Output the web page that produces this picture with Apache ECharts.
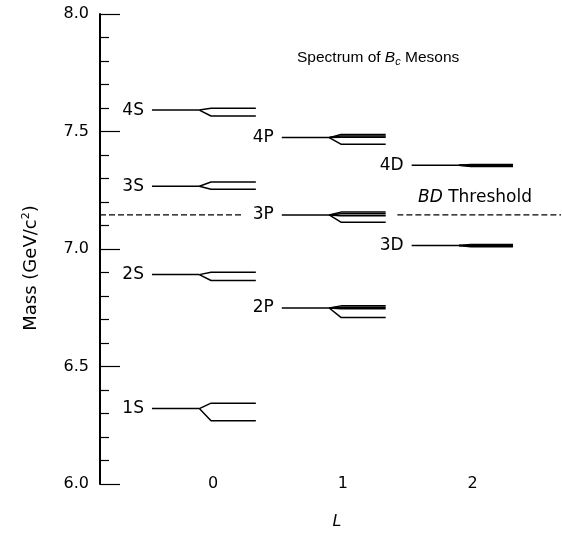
<!DOCTYPE html>
<html>
<head>
<meta charset="utf-8">
<script src="https://cdn.jsdelivr.net/npm/echarts@6/dist/echarts.min.js"></script>
<style>
html,body{margin:0;padding:0;background:#fff;}
#chart{width:562px;height:535px;}
</style>
</head>
<body>
<div id="chart"></div>
<script>
// ---- data ----
const yTicks = [6.0, 6.5, 7.0, 7.5, 8.0];
const xTickValues = [0, 1, 2];

// S-wave (L = 0)
const sLabels   = ['1S', '2S', '3S', '4S'];
const sCentroid = [6.321, 6.891, 7.267, 7.591];
const sTriplet  = [6.344, 6.901, 7.285, 7.599];
const sSinglet  = [6.269, 6.866, 7.254, 7.566];

// P-wave (L = 1)
const pLabels   = ['2P', '3P', '4P'];
const pCentroid = [6.749, 7.145, 7.474];
const pSplit = [
  [6.758, 6.752, 6.746, 6.709],
  [7.157, 7.150, 7.142, 7.114],
  [7.487, 7.481, 7.476, 7.446]
];

// D-wave (L = 2)
const dLabels   = ['3D', '4D'];
const dCentroid = [7.015, 7.356];
const dSplit = [
  [7.019, 7.016, 7.013, 7.010],
  [7.360, 7.357, 7.354, 7.351]
];

const bdThreshold = 7.145;

// ---- layout constants ----
const xMin = -0.87, xMax = 2.68;
const X_START = -0.47, X_FORK = -0.105, X_SPLIT = -0.015, X_END = 0.33, X_END_D = 0.31;
const FONT = 'DejaVu Sans';
const lineStyle = {color: '#000', width: 1.5};

const series = [];
function addLine(data, label, style) {
  series.push({
    type: 'line', symbol: 'circle', symbolSize: 0, showSymbol: true,
    silent: true, animation: false,
    itemStyle: {color: '#000'},
    lineStyle: style || lineStyle,
    z: 3,
    data: data.map((d, i) => (label && i === 0) ? {value: d, label: {
      show: true, position: 'left', distance: 8, formatter: label,
      fontFamily: FONT, fontSize: 17, color: '#000'
    }} : d)
  });
}
function addLevel(L, label, c, splits, xEnd) {
  addLine([[L + X_START, c], [L + X_FORK, c]], label);
  splits.forEach(m => {
    addLine([[L + X_FORK, c], [L + X_SPLIT, m], [L + xEnd, m]]);
  });
}
sLabels.forEach((lab, i) => addLevel(0, lab, sCentroid[i], [sTriplet[i], sSinglet[i]], X_END));
pLabels.forEach((lab, i) => addLevel(1, lab, pCentroid[i], pSplit[i], X_END));
dLabels.forEach((lab, i) => addLevel(2, lab, dCentroid[i], dSplit[i], X_END_D));

// BD threshold (dashed), interrupted around the 3P level
const dashStyle = {color: '#000', width: 1.3, type: [6, 3]};
addLine([[xMin, bdThreshold], [0.22, bdThreshold]], null, dashStyle);
addLine([[1.42, bdThreshold], [xMax, bdThreshold]], null, dashStyle);

const option = {
  backgroundColor: '#fff',
  animation: false,
  grid: {left: 100, right: 1, top: 14, bottom: 51},
  xAxis: {
    type: 'value', min: xMin, max: xMax,
    axisLine: {show: false}, axisTick: {show: false}, splitLine: {show: false},
    axisLabel: {
      customValues: xTickValues, margin: 0, verticalAlign: 'middle',
      fontFamily: FONT, fontSize: 16, color: '#000',
      formatter: v => String(v)
    },
    name: 'L', nameLocation: 'middle', nameGap: 30,
    nameTextStyle: {fontFamily: FONT, fontSize: 16, fontStyle: 'italic', color: '#000', padding: [0, 0, 0, 13]}
  },
  yAxis: {
    type: 'value', min: yTicks[0], max: yTicks[yTicks.length - 1], interval: 0.5,
    axisLine: {show: true, onZero: false, lineStyle: {color: '#000', width: 2}},
    axisTick: {show: true, inside: true, length: 20, lineStyle: {color: '#000', width: 1.2}},
    minorTick: {show: true, splitNumber: 5, length: 9, lineStyle: {color: '#000', width: 1.2}},
    splitLine: {show: false},
    axisLabel: {
      margin: 11, fontFamily: FONT, fontSize: 16, color: '#000',
      formatter: v => v.toFixed(1)
    }
  },
  graphic: [
    {
      type: 'text', x: 31, y: 268, rotation: Math.PI / 2,
      style: {
        text: '{a|Mass (GeV/c}{s|2}{a|)}',
        align: 'center', verticalAlign: 'middle',
        rich: {
          a: {fontFamily: FONT, fontSize: 18, fill: '#000'},
          s: {fontFamily: FONT, fontSize: 11, fill: '#000', verticalAlign: 'top', padding: [0, 0, 9, 0]}
        }
      }
    },
    {
      type: 'text', x: 297, y: 58,
      style: {
        text: '{a|Spectrum of }{i|B}{c|c}{a| Mesons}',
        align: 'left', verticalAlign: 'middle',
        rich: {
          a: {fontFamily: 'Liberation Sans', fontSize: 15.5, fill: '#000'},
          i: {fontFamily: 'Liberation Sans', fontSize: 15.5, fontStyle: 'italic', fill: '#000'},
          c: {fontFamily: 'Liberation Sans', fontSize: 11, fontStyle: 'italic', fill: '#000', padding: [8, 0, 0, 0]}
        }
      }
    },
    {
      type: 'text', x: 475, y: 198,
      style: {
        text: '{i|BD}{a| Threshold}',
        align: 'center', verticalAlign: 'middle',
        rich: {
          a: {fontFamily: FONT, fontSize: 17, fill: '#000'},
          i: {fontFamily: FONT, fontSize: 17, fontStyle: 'italic', fill: '#000'}
        }
      }
    }
  ],
  series: series
};

const chart = echarts.init(document.getElementById('chart'), null, {renderer: 'canvas'});
chart.setOption(option);
</script>
</body>
</html>
